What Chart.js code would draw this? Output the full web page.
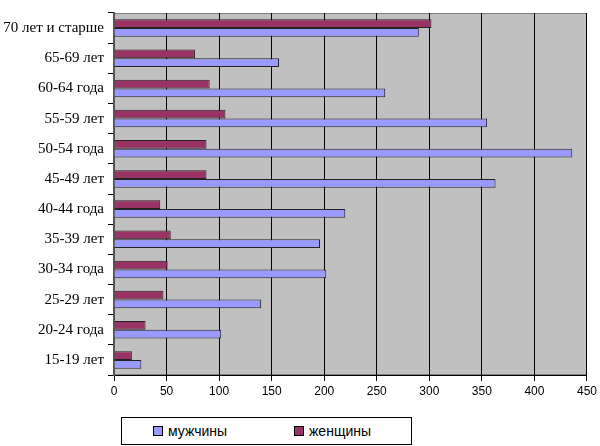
<!DOCTYPE html>
<html lang="ru">
<head>
    <meta charset="UTF-8">
    <title>Возрастной состав</title>
    <script src="https://cdn.jsdelivr.net/npm/chart.js"></script>
    <style>
        html, body { margin: 0; padding: 0; background: #fff; }
        #wrap { position: relative; width: 600px; height: 446px; }
        #legend {
            position: absolute; left: 121px; top: 417px; width: 289px; height: 26px;
            border: 1px solid #000; background: #fff;
            font: 14px "Liberation Sans", Arial, sans-serif; color: #000;
        }
        .item { position: absolute; top: 5px; display: flex; align-items: center; gap: 5px; }
        .sw { width: 8px; height: 8px; border: 1px solid #000; }
    </style>
</head>
<body>
<div id="wrap">
    <canvas id="chart" width="600" height="446"></canvas>
    <div id="legend"></div>
</div>
<script>
    // сверху вниз, как на рисунке
    const ages = ['70 лет и старше', '65-69 лет', '60-64 года', '55-59 лет', '50-54 года', '45-49 лет',
                  '40-44 года', '35-39 лет', '30-34 года', '25-29 лет', '20-24 года', '15-19 лет'];
    const women = [302, 77, 91, 106, 88, 88, 44, 54, 51, 47, 30, 17];
    const men = [290, 157, 258, 355, 436, 363, 220, 196, 202, 140, 102, 26];
    const xTicks = [0, 50, 100, 150, 200, 250, 300, 350, 400, 450];

    const plotBg = {
        id: 'plotBg',
        beforeDraw(chart) {
            const { ctx, chartArea: a } = chart;
            ctx.save();
            ctx.fillStyle = '#c0c0c0';
            ctx.fillRect(a.left, a.top, a.right - a.left, a.bottom - a.top);
            ctx.strokeStyle = '#808080';
            ctx.lineWidth = 1;
            ctx.strokeRect(a.left + 0.5, a.top + 0.5, a.right - a.left - 1, a.bottom - a.top - 1);
            ctx.restore();
        }
    };

    const chart = new Chart(document.getElementById('chart'), {
        type: 'bar',
        data: {
            labels: ages,
            datasets: [
                { label: 'женщины', data: women, backgroundColor: '#993366', borderColor: '#222', borderWidth: 1 },
                { label: 'мужчины', data: men, backgroundColor: '#9999ff', borderColor: '#222', borderWidth: 1 }
            ]
        },
        options: {
            indexAxis: 'y',
            responsive: false,
            animation: false,
            layout: { padding: { top: 1, right: 7, left: 0, bottom: 0 } },
            categoryPercentage: 0.58,
            barPercentage: 1,
            plugins: { legend: { display: false }, tooltip: { enabled: false } },
            scales: {
                x: {
                    min: 0, max: 450,
                    afterBuildTicks(s) { s.ticks = xTicks.map(v => ({ value: v })); },
                    afterFit(s) { s.height = 71; },
                    grid: { color: '#000', lineWidth: 1, tickLength: 6, drawTicks: true },
                    border: { color: '#000', width: 1 },
                    ticks: { color: '#000', padding: 3, font: { family: 'Liberation Sans', size: 12 } }
                },
                y: {
                    afterFit(s) { s.width = 114; },
                    grid: { drawOnChartArea: false, offset: true, color: '#000', tickLength: 6 },
                    border: { color: '#555', width: 2 },
                    ticks: { color: '#000', padding: 4, font: { family: 'Liberation Serif', size: 15 } }
                }
            }
        },
        plugins: [plotBg]
    });

    // легенда: мужчины первыми
    const legend = document.getElementById('legend');
    const pos = { 'мужчины': 31, 'женщины': 172 };
    chart.data.datasets.slice().reverse().forEach(ds => {
        const el = document.createElement('div');
        el.className = 'item';
        el.style.left = pos[ds.label] + 'px';
        el.innerHTML = '<span class="sw" style="background:' + ds.backgroundColor + '"></span>' + ds.label;
        legend.appendChild(el);
    });
</script>
</body>
</html>
